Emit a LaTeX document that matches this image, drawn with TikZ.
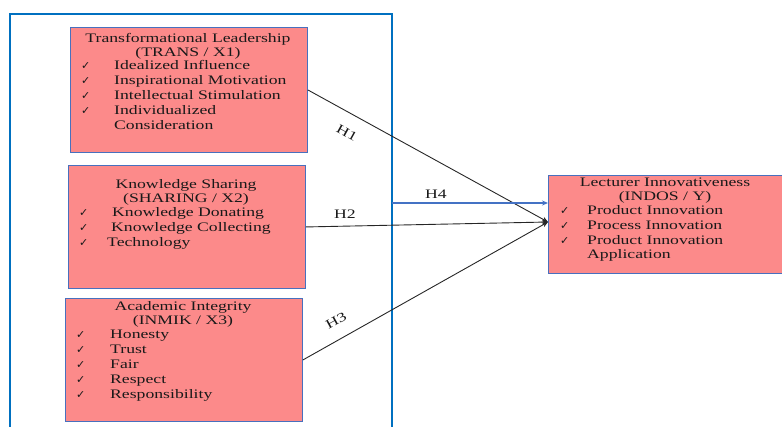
\documentclass[tikz,border=0pt]{standalone}
\usepackage{fontspec}
\setmainfont{Liberation Serif}[FakeStretch=1.36]
\newfontfamily\chkfont{DejaVu Sans}
\usetikzlibrary{arrows.meta}
\definecolor{salmonfill}{RGB}{252,138,138}
\definecolor{boxedge}{RGB}{72,112,190}
\definecolor{frameblue}{RGB}{0,112,192}
\definecolor{hfour}{RGB}{68,114,196}
\definecolor{ink}{RGB}{25,25,25}
\tikzset{
  box/.style={draw=boxedge, line width=0.9pt, fill=salmonfill, anchor=north west, inner sep=0pt},
  txt/.style={anchor=base west, inner sep=0pt, text=ink, font=\fontsize{13}{15}\selectfont},
  ttl/.style={anchor=base, inner sep=0pt, text=ink, font=\fontsize{13}{15}\selectfont},
  ck/.style={anchor=base west, inner sep=0pt, text=ink, font=\chkfont\fontsize{11}{15}\selectfont},
  hlab/.style={inner sep=0pt, text=ink, font=\fontsize{13}{15}\selectfont},
  link/.style={line width=0.9pt, draw=black!85, -{Stealth[length=6pt,width=5pt]}},
}
\begin{document}
\begin{tikzpicture}[x=1pt,y=-1pt]
\useasboundingbox (0,0) rectangle (782,426);
\begin{scope}
\clip (0,0) rectangle (782,426);
\draw[frameblue, line width=2.6pt] (10,14) rectangle (392,440);

% boxes
\node[box, minimum width=237pt, minimum height=125pt] (b1) at (70,27) {};
\node[box, minimum width=237pt, minimum height=123pt] (b2) at (68,165) {};
\node[box, minimum width=237pt, minimum height=123pt] (b3) at (65,298) {};
\node[box, minimum width=236pt, minimum height=98pt] (by) at (548,175) {};

% box 1
\node[ttl] (t1a) at (188,42) {Transformational Leadership};
\node[ttl] (t1b) at (188,56) {(TRANS / X1)};
\node[ck] (c1a) at (81,69) {✓};
\node[ck] (c1b) at (81,84) {✓};
\node[ck] (c1c) at (81,99) {✓};
\node[ck] (c1d) at (81,114) {✓};
\node[txt] (i1a) at (114,69) {Idealized Influence};
\node[txt] (i1b) at (114,84) {Inspirational Motivation};
\node[txt] (i1c) at (114,99) {Intellectual Stimulation};
\node[txt] (i1d) at (114,114) {Individualized};
\node[txt] (i1e) at (114,129) {Consideration};

% box 2
\node[ttl] (t2a) at (186,188) {Knowledge Sharing};
\node[ttl] (t2b) at (186,202) {(SHARING / X2)};
\node[ck] (c2a) at (79,216) {✓};
\node[ck] (c2b) at (79,231) {✓};
\node[ck] (c2c) at (79,246) {✓};
\node[txt] (i2a) at (112,216) {Knowledge Donating};
\node[txt] (i2b) at (111,231) {Knowledge Collecting};
\node[txt] (i2c) at (107,246) {Technology};

% box 3
\node[ttl] (t3a) at (183,310) {Academic Integrity};
\node[ttl] (t3b) at (183,324) {(INMIK / X3)};
\node[ck] (c3a) at (76,338) {✓};
\node[ck] (c3b) at (76,353) {✓};
\node[ck] (c3c) at (76,368) {✓};
\node[ck] (c3d) at (76,383) {✓};
\node[ck] (c3e) at (76,398) {✓};
\node[txt] (i3a) at (110,338) {Honesty};
\node[txt] (i3b) at (110,353) {Trust};
\node[txt] (i3c) at (110,368) {Fair};
\node[txt] (i3d) at (110,383) {Respect};
\node[txt] (i3e) at (110,398) {Responsibility};

% box Y
\node[ttl] (tya) at (665,186) {Lecturer Innovativeness};
\node[ttl] (tyb) at (665,200) {(INDOS / Y)};
\node[ck] (cya) at (560,214) {✓};
\node[ck] (cyb) at (560,229) {✓};
\node[ck] (cyc) at (560,244) {✓};
\node[txt] (iya) at (587,214) {Product Innovation};
\node[txt] (iyb) at (587,229) {Process Innovation};
\node[txt] (iyc) at (587,244) {Product Innovation};
\node[txt] (iyd) at (587,258) {Application};

% connectors
\coordinate (tgt) at (548,222);
\draw[link] (b1.east) -- (tgt);
\draw[link] (b2.east) -- (tgt);
\draw[link] (b3.east) -- (tgt);
\coordinate (h4s) at (392,203);
\draw[draw=hfour, line width=1.4pt, -{Stealth[length=6pt,width=5pt]}] (h4s) -- (h4s -| by.west);

% labels
\node[hlab, rotate=-29] (l1) at (347,133) {H1};
\node[hlab] (l2) at (345,214) {H2};
\node[hlab, rotate=29] (l3) at (336,321) {H3};
\node[hlab] (l4) at (436,194) {H4};
\end{scope}
\end{tikzpicture}
\end{document}
